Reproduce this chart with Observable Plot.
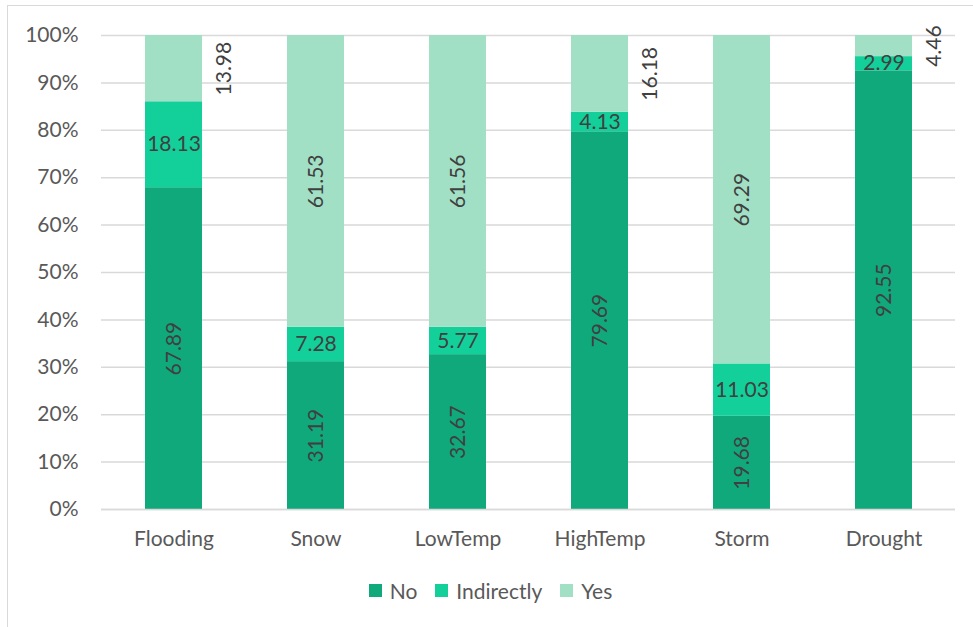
<!DOCTYPE html>
<html>
<head>
<meta charset="utf-8">
<script src="https://cdn.jsdelivr.net/npm/d3@7"></script>
<script src="https://cdn.jsdelivr.net/npm/@observablehq/plot@0.6"></script>
<style>
  html, body { margin: 0; padding: 0; background: #fff; }
  body { width: 973px; height: 627px; position: relative; overflow: hidden; font-family: Lato, "Open Sans", sans-serif; }
  #frame { position: absolute; left: 7px; top: 5px; width: 980px; height: 640px; border: 1.5px solid #d9d9d9; box-sizing: border-box; }
  #chart { position: absolute; left: 0; top: 0; }
  #legend { position: absolute; left: 4px; top: 578px; width: 973px; display: flex; justify-content: center; gap: 18px; font-size: 21px; color: #595959; }
  #legend .item { display: flex; align-items: center; gap: 8px; }
  #legend .sw { width: 13px; height: 13px; display: inline-block; }
</style>
</head>
<body>
<div id="frame"></div>
<div id="chart"></div>
<div id="legend"></div>
<script>
const categories = ["Flooding", "Snow", "LowTemp", "HighTemp", "Storm", "Drought"];
const noValues = [67.89, 31.19, 32.67, 79.69, 19.68, 92.55];
const indirectlyValues = [18.13, 7.28, 5.77, 4.13, 11.03, 2.99];
const yesValues = [13.98, 61.53, 61.56, 16.18, 69.29, 4.46];
const seriesNames = ["No", "Indirectly", "Yes"];
const seriesColors = ["#10a97c", "#13d09a", "#a2e0c6"];
const yTicks = [0, 10, 20, 30, 40, 50, 60, 70, 80, 90, 100];
const yesOutside = ["Flooding", "HighTemp", "Drought"];

const seriesValues = [noValues, indirectlyValues, yesValues];
const data = [];
seriesNames.forEach((s, si) => {
  categories.forEach((c, ci) => {
    data.push({ category: c, series: s, value: seriesValues[si][ci] });
  });
});

const stackOpts = { x: "category", y: "value", z: "series", order: seriesNames };
const isRotIn = d => d.series === "No" || (d.series === "Yes" && !yesOutside.includes(d.category));
const isHoriz = d => d.series === "Indirectly";
const isOut = d => d.series === "Yes" && yesOutside.includes(d.category);
const lbl = cond => d => cond(d) ? d.value.toFixed(2) : "";

const labelFont = { fontSize: 21, fill: "#404040", fontFamily: "Lato, 'Open Sans', sans-serif" };

const chart = Plot.plot({
  width: 973,
  height: 560,
  marginLeft: 101,
  marginRight: 18,
  marginTop: 35,
  marginBottom: 51,
  style: { fontFamily: "Lato, 'Open Sans', sans-serif", background: "transparent" },
  x: { domain: categories, paddingInner: 0.6, paddingOuter: 0.3, label: null },
  y: { domain: [0, 100], ticks: yTicks, label: null },
  color: { domain: seriesNames, range: seriesColors },
  marks: [
    Plot.gridY(yTicks, { stroke: "#d9d9d9", strokeOpacity: 1, strokeWidth: 1.5 }),
    Plot.barY(data, Plot.stackY({ ...stackOpts, fill: "series" })),
    Plot.text(data, Plot.stackY({ ...stackOpts, text: lbl(isRotIn), rotate: -90, ...labelFont })),
    Plot.text(data, Plot.stackY({ ...stackOpts, text: lbl(isHoriz), ...labelFont })),
    Plot.text(data, Plot.stackY({ ...stackOpts, text: lbl(isOut), rotate: -90, dx: 50, ...labelFont })),
    Plot.ruleY([0], { stroke: "#d9d9d9", strokeWidth: 1.5 }),
    Plot.axisY(yTicks, { tickSize: 0, tickPadding: 23, tickFormat: d => d + "%", fontSize: 21, fill: "#595959", label: null }),
    Plot.axisX({ tickSize: 0, tickPadding: 22, fontSize: 21, fill: "#595959", label: null })
  ]
});
document.getElementById("chart").appendChild(chart);

const legend = document.getElementById("legend");
seriesNames.forEach((s, i) => {
  const item = document.createElement("div");
  item.className = "item";
  const sw = document.createElement("span");
  sw.className = "sw";
  sw.style.background = seriesColors[i];
  const t = document.createElement("span");
  t.textContent = s;
  item.appendChild(sw);
  item.appendChild(t);
  legend.appendChild(item);
});
</script>
</body>
</html>
